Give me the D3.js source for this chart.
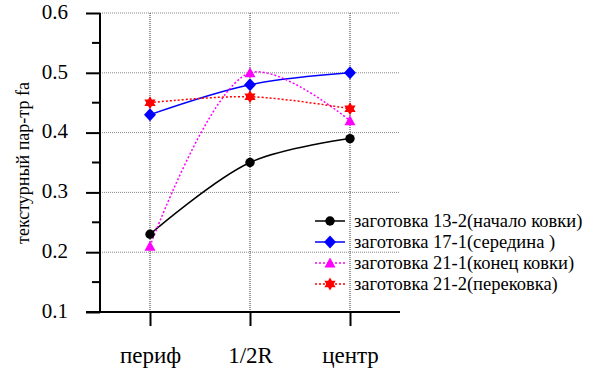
<!DOCTYPE html>
<html lang="ru">
<head>
<meta charset="UTF-8">
<title>Текстурный параметр</title>
<script src="https://cdn.jsdelivr.net/npm/d3@7/dist/d3.min.js"></script>
<style>
  body { margin: 0; background: #fff; }
  svg text { font-family: "Liberation Serif", "Times New Roman", Times, "DejaVu Serif", serif; fill: #000; }
</style>
</head>
<body>
<svg id="main" width="599" height="374"></svg>
<script>
    // data
    const categories = ['периф', '1/2R', 'центр'];
    const yTicks = [0.1, 0.2, 0.3, 0.4, 0.5, 0.6];
    const seriesNames = ['заготовка 13-2(начало ковки)', 'заготовка 17-1(середина )',
        'заготовка 21-1(конец ковки)', 'заготовка 21-2(перековка)'];
    const s13_2 = [0.23, 0.35, 0.39];
    const s17_1 = [0.43, 0.48, 0.50];
    const s21_1 = [0.21, 0.50, 0.42];
    const s21_2 = [0.45, 0.46, 0.44];

    const colors = ['#000000', '#0000ff', '#ff00ff', '#ff0000'];
    const dashes = [null, null, '2,2', '2,2'];
    const shapes = ['circle', 'diamond', 'triangle', 'hexagram'];

    const series = [s13_2, s17_1, s21_1, s21_2].map((v, i) => ({name: seriesNames[i], values: v, i: i}));

    const svg = d3.select('svg#main');
    const plotLeft = 100, plotRight = 400, plotTop = 13, plotBottom = 312;
    const serif = '"Liberation Serif", "Times New Roman", Times, "DejaVu Serif", serif';

    const x = d3.scalePoint().domain(categories).range([plotLeft, plotRight]).padding(0.5);
    const y = d3.scaleLinear().domain([0.1, 0.6]).range([plotBottom, plotTop]);

    // grid
    svg.append('g').selectAll('line').data(yTicks.slice(1)).enter().append('line')
        .attr('x1', plotLeft).attr('x2', plotRight)
        .attr('y1', d => y(d)).attr('y2', d => y(d))
        .attr('stroke', '#888').attr('stroke-width', 1).attr('stroke-dasharray', '1,1');
    svg.append('g').selectAll('line').data(categories).enter().append('line')
        .attr('x1', d => x(d)).attr('x2', d => x(d))
        .attr('y1', plotTop).attr('y2', plotBottom)
        .attr('stroke', '#333').attr('stroke-width', 1).attr('stroke-dasharray', '1,1');

    // y axis
    const yAxis = svg.append('g').attr('transform', 'translate(' + plotLeft + ',0)')
        .call(d3.axisLeft(y).tickValues(yTicks).tickSize(14).tickPadding(18).tickFormat(d3.format('.1f')));
    yAxis.attr('font-family', serif);
    yAxis.select('.domain').remove();
    yAxis.append('line').attr('x1', 0).attr('x2', 0).attr('y1', plotTop).attr('y2', plotBottom)
        .attr('stroke', '#000').attr('stroke-width', 2);
    yAxis.selectAll('.tick line').attr('stroke-width', 2);
    yAxis.selectAll('.tick text').attr('font-size', 21).attr('dy', '0.25em');
    // minor ticks
    yAxis.selectAll('.minor').data(d3.range(0.15, 0.6, 0.1)).enter().append('line')
        .attr('x1', -8).attr('x2', 0).attr('y1', d => y(d)).attr('y2', d => y(d))
        .attr('stroke', '#000').attr('stroke-width', 2);

    // x axis
    const xAxis = svg.append('g').attr('transform', 'translate(0,' + plotBottom + ')')
        .call(d3.axisBottom(x).tickSize(14));
    xAxis.attr('font-family', serif);
    xAxis.select('.domain').remove();
    xAxis.append('line').attr('x1', plotLeft - 14).attr('x2', plotRight).attr('y1', 0).attr('y2', 0)
        .attr('stroke', '#000').attr('stroke-width', 2);
    xAxis.selectAll('.tick line').attr('stroke-width', 2);
    xAxis.selectAll('.tick text').attr('font-size', 23).attr('y', 51).attr('dy', 0);

    // y label
    svg.append('text')
        .attr('transform', 'translate(29,' + 163 + ') rotate(-90)')
        .attr('text-anchor', 'middle')
        .attr('font-size', 18)
        .text('текстурный пар-тр fa');

    const line = d3.line()
        .x((d, i) => x(categories[i]))
        .y(d => y(d))
        .curve(d3.curveCatmullRom.alpha(0.5));

    svg.selectAll('.series').data(series).enter().append('path')
        .attr('class', 'series')
        .attr('d', d => line(d.values))
        .attr('fill', 'none')
        .attr('stroke', d => colors[d.i])
        .attr('stroke-width', 1.5)
        .attr('stroke-dasharray', d => dashes[d.i]);

    function marker(sel, shape, color) {
        if (shape === 'circle') {
            sel.append('circle').attr('r', 4.7).attr('fill', color);
        } else if (shape === 'diamond') {
            sel.append('path').attr('d', 'M0,-6.5L6,0L0,6.5L-6,0Z').attr('fill', color);
        } else if (shape === 'triangle') {
            sel.append('path').attr('d', 'M0,-5.5L5.5,4.5L-5.5,4.5Z').attr('fill', color);
        } else {
            sel.append('path').attr('d', 'M0,-6.5L5.6,3.3L-5.6,3.3Z M0,6.5L-5.6,-3.3L5.6,-3.3Z').attr('fill', color);
        }
    }

    series.forEach(s => {
        s.values.forEach((v, j) => {
            const g = svg.append('g').attr('transform', 'translate(' + x(categories[j]) + ',' + y(v) + ')');
            marker(g, shapes[s.i], colors[s.i]);
        });
    });

    // legend
    const legend = svg.selectAll('.legend').data(series).enter().append('g')
        .attr('class', 'legend')
        .attr('transform', (d, i) => 'translate(315,' + (221 + i * 21) + ')');
    legend.append('line').attr('x1', 0).attr('x2', 30).attr('y1', 0).attr('y2', 0)
        .attr('stroke', d => colors[d.i]).attr('stroke-width', 1.5)
        .attr('stroke-dasharray', d => dashes[d.i]);
    legend.each(function (d) {
        const g = d3.select(this).append('g').attr('transform', 'translate(15,0)');
        marker(g, shapes[d.i], colors[d.i]);
    });
    legend.append('text').attr('x', 39).attr('y', 6)
        .attr('font-size', 18.5)
        .text(d => d.name);
</script>
</body>
</html>
